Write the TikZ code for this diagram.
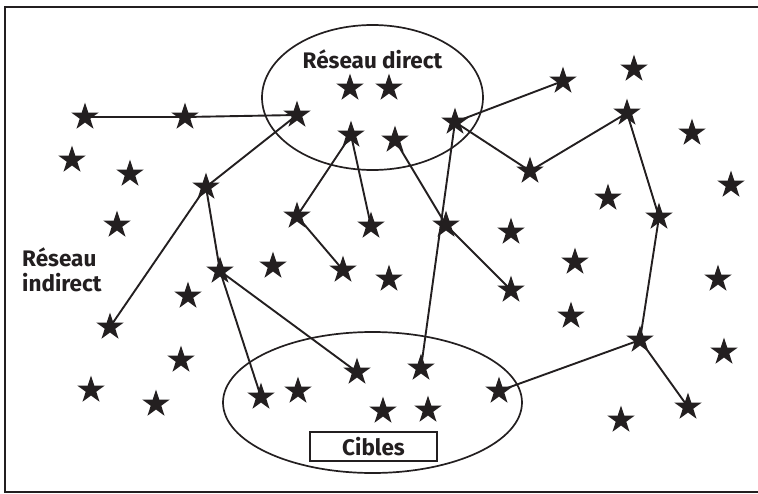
\documentclass[tikz,border=0pt]{standalone}
\usepackage{fontspec}
\setmainfont{Fira Sans}
\usetikzlibrary{shapes.geometric,backgrounds}
\definecolor{ink}{HTML}{231F20}
\begin{document}
\begin{tikzpicture}[x=1pt,y=-1pt,
  st/.style={star,star points=5,star point ratio=2.618,minimum size=29pt,inner sep=0pt,outer sep=0pt,fill=ink,draw=none},
  link/.style={draw=ink,line width=1.9pt},
  ring/.style={ellipse,draw=ink,line width=1.7pt,inner sep=0pt},
  lbl/.style={font=\bfseries\fontsize{22.5}{25}\selectfont,text=ink,inner sep=0pt}]
\useasboundingbox (0,0) rectangle (758,493);
\draw[ink,line width=2pt] (758,7) -- (5,7) -- (5,492) -- (758,492);
% ellipses
\node[ring,minimum width=221pt,minimum height=145pt] (direct) at (372.5,97.5) {};
\node[ring,minimum width=299pt,minimum height=141pt] (cibring) at (372.5,402.5) {};
% stars
\foreach \n/\x/\y in {
 s1/85/117, s2/185/117, s3/297/115, s4/350/88, s5/389/88, s6/351/135, s7/395/140,
 s8/455/122, s9/563/81, s10/634/69, s11/627/113, s12/692/133, s13/72/160, s14/130/174,
 s15/206/187, s16/530/171, s17/731/185, s18/608/198, s19/117/225, s20/297/216,
 s21/371/226, s22/446/225, s23/511/232, s24/659/217, s25/220/271, s26/273/266,
 s27/343/270, s28/389/279, s29/575/262, s30/718/279, s31/188/296, s32/511/290,
 s33/110/327, s34/571/316, s35/640/340, s36/724/352, s37/181/360, s38/357/372,
 s39/421/368, s40/91/390, s41/261/397, s42/298/391, s43/499/391, s44/156/404,
 s45/383/411, s46/428/410, s47/688/407, s48/621/420}
  \node[st] (\n) at (\x,\y) {};
% links
\begin{scope}[on background layer]
\foreach \a/\b in {s1/s2, s2/s3, s3/s15, s15/s33, s15/s25, s25/s41, s25/s38,
  s6/s20, s20/s27, s6/s21, s7/s22, s22/s32, s8/s9, s8/s16, s16/s11, s11/s24,
  s24/s35, s35/s47, s35/s43, s8/s39}
  \draw[link] (\a.center) -- (\b.center);
\end{scope}
% labels
\node[lbl] (tdirect) at (372.5,59) {Réseau direct};
\node[lbl,anchor=west,align=left] (tindirect) at (22,270) {Réseau\\indirect};
\node[draw=ink,fill=white,line width=1.5pt,minimum width=127pt,minimum height=29pt,inner sep=0pt] (cbox) at (373.5,446.5) {};
\node[lbl] (tcibles) at (cbox.center) {Cibles};
\end{tikzpicture}
\end{document}
